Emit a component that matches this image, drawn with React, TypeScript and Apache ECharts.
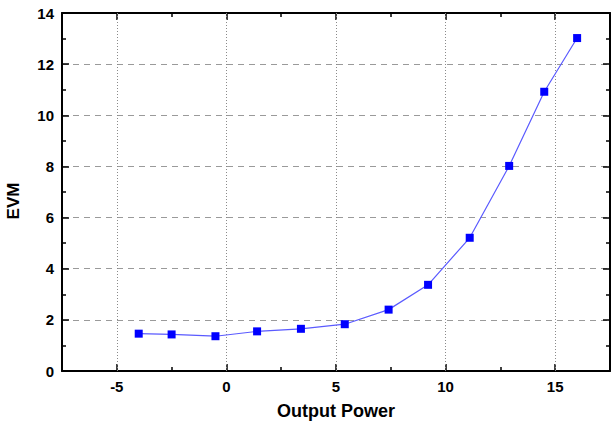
import React, { useEffect, useRef } from "react";
import * as echarts from "echarts";

const outputPower = [-4, -2.5, -0.5, 1.4, 3.4, 5.4, 7.4, 9.2, 11.1, 12.9, 14.5, 16.0];
const evm = [1.46, 1.43, 1.36, 1.55, 1.65, 1.83, 2.4, 3.37, 5.21, 8.02, 10.92, 13.02];
const xMajor = [-5, 0, 5, 10, 15];
const xMinor = [-7.5, -2.5, 2.5, 7.5, 12.5, 17.5];
const xTitle = "Output Power";
const yTitle = "EVM";

const FONT = "'Liberation Sans', Arial, sans-serif";

export default function App() {
  const ref = useRef<HTMLDivElement>(null);
  useEffect(() => {
    if (!ref.current) return;
    const chart = echarts.init(ref.current, null, { renderer: "svg" });
    const grid = { left: 62, top: 13, width: 548, height: 358, outerBoundsMode: "none", containLabel: false };
    const baseX = {
      type: "value",
      min: -7.5,
      max: 17.5,
      splitLine: { show: false },
    };
    const frameLine = { show: true, onZero: false, lineStyle: { color: "#000", width: 2 } };
    const noLine = { show: false, onZero: false };
    const majorTick = {
      show: true,
      inside: true,
      length: 7,
      customValues: xMajor,
      lineStyle: { color: "#000", width: 1.5 },
    };
    const minorTickX = {
      show: true,
      inside: true,
      length: 4,
      customValues: xMinor,
      lineStyle: { color: "#000", width: 1.5 },
    };
    const option = {
      animation: false,
      backgroundColor: "#fff",
      grid,
      xAxis: [
        {
          ...baseX,
          position: "bottom",
          axisLine: frameLine,
          axisTick: majorTick,
          axisLabel: {
            customValues: xMajor,
            color: "#000",
            fontWeight: "bold",
            fontSize: 15,
            fontFamily: FONT,
            margin: 8,
          },
        },
        {
          ...baseX,
          position: "bottom",
          axisLine: noLine,
          axisTick: minorTickX,
          axisLabel: { show: false },
        },
        {
          ...baseX,
          position: "top",
          axisLine: frameLine,
          axisTick: majorTick,
          axisLabel: { show: false },
        },
        {
          ...baseX,
          position: "top",
          axisLine: noLine,
          axisTick: minorTickX,
          axisLabel: { show: false },
        },
      ],
      yAxis: [
        {
          type: "value",
          position: "left",
          min: 0,
          max: 14,
          interval: 2,
          axisLine: frameLine,
          axisTick: { show: true, inside: true, length: 7, lineStyle: { color: "#000", width: 1.5 } },
          minorTick: { show: true, splitNumber: 2, length: 4, lineStyle: { color: "#000", width: 1.5 } },
          axisLabel: {
            color: "#000",
            fontWeight: "bold",
            fontSize: 15,
            fontFamily: FONT,
            margin: 8,
          },
          splitLine: {
            show: true,
            lineStyle: { color: "#9a9a9a", type: [6, 5], width: 1 },
          },
        },
        {
          type: "value",
          position: "right",
          min: 0,
          max: 14,
          interval: 2,
          axisLine: frameLine,
          axisTick: { show: true, inside: true, length: 7, lineStyle: { color: "#000", width: 1.5 } },
          minorTick: { show: true, splitNumber: 2, length: 4, lineStyle: { color: "#000", width: 1.5 } },
          axisLabel: { show: false },
          splitLine: { show: false },
        },
      ],
      graphic: [
        {
          type: "text",
          x: 13,
          y: 201,
          rotation: Math.PI / 2,
          style: {
            text: yTitle,
            fill: "#000",
            font: `bold 17px ${FONT}`,
            align: "center",
            verticalAlign: "middle",
          },
        },
        {
          type: "text",
          x: 336,
          y: 411,
          style: {
            text: xTitle,
            fill: "#000",
            font: `bold 18px ${FONT}`,
            align: "center",
            verticalAlign: "middle",
          },
        },
      ],
      series: [
        {
          type: "line",
          xAxisIndex: 0,
          yAxisIndex: 0,
          data: outputPower.map((x, i) => [x, evm[i]]),
          symbol: "rect",
          symbolSize: 8,
          itemStyle: { color: "#0000ff" },
          lineStyle: { color: "#5a5aff", width: 1.2 },
          z: 5,
          markLine: {
            silent: true,
            symbol: "none",
            label: { show: false },
            lineStyle: { color: "#8a8a8a", type: [1, 2], width: 1 },
            data: xMajor.map((v) => ({ xAxis: v })),
            z: 1,
          },
        },
      ],
    };
    chart.setOption(option as any);
    return () => chart.dispose();
  }, []);
  return (
    <div
      ref={ref}
      style={{ position: "absolute", left: 0, top: 0, width: 611, height: 422 }}
    />
  );
}
